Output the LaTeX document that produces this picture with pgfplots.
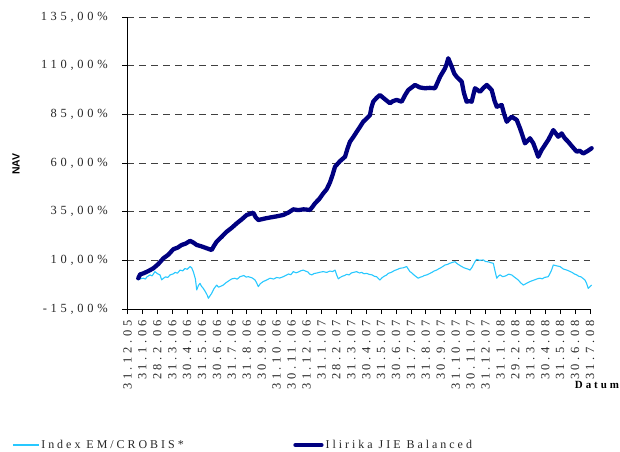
\documentclass[border=0pt]{standalone}
\usepackage{pgfplots}
\pgfplotsset{compat=1.18}
\usepackage{fontspec}
\setmainfont{Liberation Serif}
\newfontfamily\spaced[LetterSpace=30]{Liberation Serif}
\newfontfamily\legfont[LetterSpace=25]{Liberation Serif}
\newfontfamily\datfont[LetterSpace=27]{Liberation Serif}
\newfontfamily\navfont{Liberation Sans}
\definecolor{navyline}{RGB}{0,0,128}
\definecolor{cyanline}{RGB}{40,200,255}
\definecolor{gridgray}{RGB}{64,64,64}

\begin{document}
\begin{tikzpicture}
\useasboundingbox (-127.5bp,-143bp) rectangle (492.5bp,309bp);
\begin{axis}[
  at={(0,0)}, anchor=south west,
  scale only axis, width=462.5bp, height=292bp,
  xmin=0, xmax=31, ymin=-15, ymax=135,
  axis x line*=bottom, axis y line*=left,
  axis line style={black, line width=0.8bp, -},
  ytick={-15,10,35,60,85,110,135},
  yticklabels={{-15,00\%},{10,00\%},{35,00\%},{60,00\%},{85,00\%},{110,00\%},{135,00\%}},
  xtick={0,...,31},
  xticklabels={31.12.05,31.1.06,28.2.06,31.3.06,30.4.06,31.5.06,30.6.06,31.7.06,31.8.06,30.9.06,31.10.06,30.11.06,31.12.06,31.1.07,28.2.07,31.3.07,30.4.07,31.5.07,30.6.07,31.7.07,31.8.07,30.9.07,31.10.07,30.11.07,31.12.07,31.1.08,29.2.08,31.3.08,30.4.08,31.5.08,30.6.08,31.7.08},
  tick align=outside, major tick length=5bp,
  tick style={black, line width=0.8bp},
  ymajorgrids, grid style={gridgray, dash pattern=on 7bp off 5bp, line width=0.8bp},
  yticklabel style={font=\fontsize{12.5}{14}\spaced, text=black!85, anchor=east, inner sep=0pt},
  yticklabel shift=14.5bp,
  xticklabel style={font=\fontsize{12.5}{14}\spaced, text=black!85, rotate=90, anchor=east, inner sep=0pt},
  xticklabel shift=6bp,
  legend columns=2,
  legend cell align=left,
  legend style={at={(axis description cs:-0.2497,-0.4658)}, anchor=west, draw=none, fill=none, inner sep=0pt,
    font=\fontsize{12}{14}\legfont, text=black!85,
    /tikz/every even column/.append style={column sep=0pt}},
  legend image code/.code={\draw[#1] (0bp,0bp) -- (26bp,0bp);},
  clip=false,
]
\addplot[cyanline, line width=1.1bp, line join=round] coordinates {
(0.72,0.0) (0.90,0.6) (1.06,0.8) (1.20,0.4) (1.30,1.5) (1.51,2.5) (1.65,2.0) (1.84,4.2) (2.00,3.2) (2.18,2.5) (2.29,0.0) (2.45,1.0) (2.55,1.5) (2.70,1.2) (2.85,2.5) (3.05,3.0) (3.20,3.8) (3.35,3.4) (3.52,5.0) (3.70,4.6) (3.85,5.8) (4.00,5.4) (4.19,6.8) (4.30,6.2) (4.41,4.2) (4.55,0.5) (4.64,-5.2) (4.75,-3.0) (4.86,-1.8) (4.95,-3.2) (5.08,-4.4) (5.25,-6.5) (5.35,-8.0) (5.42,-9.5) (5.55,-8.0) (5.64,-7.0) (5.80,-4.5) (5.98,-2.7) (6.10,-3.8) (6.20,-3.5) (6.42,-2.7) (6.60,-1.5) (6.87,-0.1) (7.00,0.5) (7.20,0.8) (7.35,0.3) (7.54,1.6) (7.80,2.2) (7.95,1.4) (8.10,1.6) (8.35,1.0) (8.55,-0.1) (8.65,-1.5) (8.77,-3.5) (8.90,-2.0) (9.10,-0.9) (9.30,-0.2) (9.55,0.8) (9.80,0.4) (10.00,1.2) (10.20,0.9) (10.44,1.6) (10.60,2.2) (10.80,3.0) (10.95,2.6) (11.11,4.2) (11.30,3.6) (11.45,4.0) (11.60,4.6) (11.78,5.0) (11.95,4.4) (12.10,4.0) (12.20,3.0) (12.35,2.5) (12.50,3.2) (12.70,3.5) (12.90,3.9) (13.12,4.2) (13.35,3.8) (13.57,4.5) (13.75,4.2) (13.91,5.0) (14.02,2.5) (14.13,0.5) (14.25,1.2) (14.40,1.8) (14.55,2.2) (14.69,2.8) (14.85,2.5) (15.00,3.5) (15.20,3.9) (15.36,4.2) (15.55,3.5) (15.70,3.8) (15.85,3.1) (16.03,3.3) (16.20,2.8) (16.40,2.5) (16.55,1.8) (16.70,1.6) (16.82,0.6) (16.92,-0.1) (17.05,1.0) (17.20,1.8) (17.35,2.4) (17.48,3.3) (17.70,3.9) (17.90,4.8) (18.05,5.2) (18.26,5.9) (18.50,6.2) (18.71,6.8) (18.82,5.5) (18.93,4.2) (19.05,3.6) (19.20,2.5) (19.35,1.6) (19.49,0.8) (19.60,1.3) (19.75,1.6) (19.90,2.2) (20.05,2.5) (20.25,3.2) (20.40,3.8) (20.55,4.5) (20.72,5.0) (20.85,5.6) (21.00,6.2) (21.15,6.9) (21.28,7.6) (21.45,7.9) (21.60,8.5) (21.80,9.0) (21.95,9.3) (22.05,8.6) (22.15,8.0) (22.28,7.4) (22.40,6.8) (22.55,6.2) (22.70,5.8) (22.85,5.4) (22.96,5.0) (23.10,6.5) (23.20,8.0) (23.30,9.5) (23.40,10.5) (23.60,10.0) (23.85,10.2) (24.00,9.4) (24.20,9.2) (24.35,8.8) (24.52,8.5) (24.62,5.0) (24.75,0.8) (24.85,1.8) (24.97,2.5) (25.15,1.6) (25.35,2.0) (25.55,2.9) (25.75,2.5) (25.90,1.6) (26.00,1.0) (26.19,-0.1) (26.35,-1.5) (26.53,-2.7) (26.75,-1.8) (26.98,-0.9) (27.15,-0.4) (27.30,0.0) (27.50,0.6) (27.65,0.8) (27.80,0.5) (27.95,1.2) (28.20,1.6) (28.30,3.0) (28.40,4.5) (28.54,7.6) (28.75,7.2) (28.99,6.8) (29.20,5.6) (29.44,5.0) (29.60,4.5) (29.80,3.8) (29.95,3.0) (30.11,2.5) (30.25,1.8) (30.40,1.5) (30.55,0.6) (30.66,-0.1) (30.78,-2.0) (30.88,-4.4) (31.00,-3.5) (31.11,-2.7)
};
\addlegendentry{\makebox[250bp][l]{Index EM/CROBIS*}}
\addplot[navyline, line width=4.3bp, line join=round, line cap=round] coordinates {
(0.72,0.8) (0.85,2.8) (1.06,3.3) (1.40,4.5) (1.73,5.9) (2.05,8.0) (2.40,11.0) (2.75,13.0) (3.07,15.7) (3.35,16.5) (3.63,17.9) (3.90,18.6) (4.19,20.0) (4.40,19.2) (4.64,17.9) (4.95,17.2) (5.31,16.2) (5.64,15.3) (5.80,17.5) (5.98,19.6) (6.30,22.0) (6.65,24.7) (7.00,26.8) (7.32,29.0) (7.65,31.0) (7.99,33.3) (8.20,33.8) (8.43,34.5) (8.60,32.0) (8.77,30.7) (9.15,31.4) (9.55,32.0) (10.00,32.6) (10.44,33.3) (10.80,34.6) (11.11,36.2) (11.45,35.8) (11.80,36.2) (12.23,35.9) (12.40,37.5) (12.57,39.3) (12.85,41.5) (13.12,44.4) (13.35,46.5) (13.57,50.0) (13.75,54.0) (13.91,58.1) (14.25,61.0) (14.58,63.2) (14.75,67.5) (14.91,70.9) (15.15,73.5) (15.36,76.0) (15.60,78.8) (15.80,81.2) (16.05,83.0) (16.25,84.6) (16.35,88.5) (16.47,91.5) (16.70,93.5) (16.92,94.9) (17.25,92.8) (17.59,90.7) (17.80,91.8) (18.04,92.4) (18.38,91.5) (18.60,94.8) (18.82,97.5) (19.05,98.8) (19.27,100.1) (19.60,98.8) (19.94,98.4) (20.25,98.6) (20.61,98.4) (20.95,104.3) (21.28,108.6) (21.40,111.0) (21.50,113.8) (21.73,109.5) (21.90,106.0) (22.06,104.3) (22.40,101.8) (22.55,96.0) (22.73,91.5) (22.90,91.8) (23.07,91.5) (23.29,98.4) (23.63,96.6) (23.85,98.5) (24.08,100.1) (24.41,97.5) (24.60,92.0) (24.75,88.9) (25.08,89.8) (25.25,85.0) (25.42,81.2) (25.75,83.8) (26.09,82.1) (26.31,77.8) (26.50,73.5) (26.64,70.1) (26.98,72.7) (27.20,70.1) (27.40,66.0) (27.53,63.2) (27.76,66.7) (28.00,69.5) (28.20,71.8) (28.54,76.9) (28.87,73.5) (29.10,75.2) (29.30,72.8) (29.54,70.9) (29.80,68.5) (30.11,65.8) (30.30,66.3) (30.55,64.9) (30.85,66.2) (31.11,67.6)
};
\addlegendentry{Ilirika JIE Balanced}
\node[rotate=90, font=\fontsize{10.5}{12}\navfont\bfseries] at (axis description cs:-0.2411,0.4966) {NAV};
\node[font=\fontsize{11}{13}\datfont\bfseries] at (axis description cs:1.0151,-0.2603) {Datum};
\end{axis}
\end{tikzpicture}
\end{document}
